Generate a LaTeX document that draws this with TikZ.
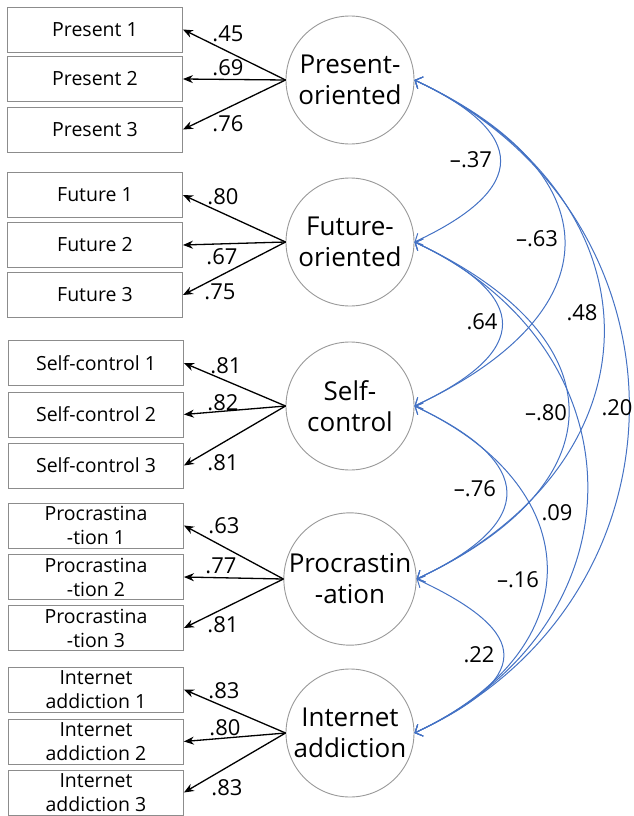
\documentclass[tikz,border=0pt]{standalone}
\usepackage{fontspec}
\setmainfont{Open Sans}
\usetikzlibrary{arrows.meta}
\definecolor{covblue}{RGB}{68,114,196}

\begin{document}
\begin{tikzpicture}[x=1pt, y=1pt,
  obs/.style={draw=black!45, line width=0.9pt, minimum width=175pt, minimum height=45pt, inner sep=0pt, align=center, font=\fontsize{19.5}{24}\selectfont},
  lat/.style={draw=black!40, line width=0.9pt, circle, minimum size=128pt, inner sep=0pt, align=center, font=\fontsize{26}{31}\selectfont},
  load/.style={-{Stealth[length=10pt,width=8pt]}, line width=1.3pt},
  cov/.style={{Straight Barb[length=6pt,width=13pt]}-{Straight Barb[length=6pt,width=13pt]}, draw=covblue, line width=1pt},
  est/.style={font=\fontsize{22}{22}\selectfont, inner sep=0pt},
  corr/.style={font=\fontsize{22}{22}\selectfont, inner sep=0pt}]
\useasboundingbox (0,0) rectangle (633,-816);

\node[obs] (pr1) at (95,-29.5) {Present 1};
\node[obs] (pr2) at (95,-79) {Present 2};
\node[obs] (pr3) at (95,-129.5) {Present 3};
\node[lat] (pr) at (350,-80) {Present-\\oriented};
\draw[load] (pr.west) -- (pr1.east);
\draw[load] (pr.west) -- (pr2.east);
\draw[load] (pr.west) -- (pr3.east);
\node[est] (lpr1) at (228,-33.5) {.45};
\node[est] (lpr2) at (228,-68) {.69};
\node[est] (lpr3) at (228,-123.5) {.76};

\node[obs] (fu1) at (95,-195) {Future 1};
\node[obs] (fu2) at (95,-245) {Future 2};
\node[obs] (fu3) at (95,-295) {Future 3};
\node[lat] (fu) at (350,-242) {Future-\\oriented};
\draw[load] (fu.west) -- (fu1.east);
\draw[load] (fu.west) -- (fu2.east);
\draw[load] (fu.west) -- (fu3.east);
\node[est] (lfu1) at (223,-197) {.80};
\node[est] (lfu2) at (222,-257) {.67};
\node[est] (lfu3) at (220,-292) {.75};

\node[obs] (sc1) at (96,-363) {Self-control 1};
\node[obs] (sc2) at (96,-414.5) {Self-control 2};
\node[obs] (sc3) at (96,-465.5) {Self-control 3};
\node[lat] (sc) at (350,-406) {Self-\\control};
\draw[load] (sc.west) -- (sc1.east);
\draw[load] (sc.west) -- (sc2.east);
\draw[load] (sc.west) -- (sc3.east);
\node[est] (lsc1) at (226,-366) {.81};
\node[est] (lsc2) at (223,-403) {.82};
\node[est] (lsc3) at (223,-463) {.81};

\node[obs] (pc1) at (96,-525.5) {Procrastina\\-tion 1};
\node[obs] (pc2) at (96,-577) {Procrastina\\-tion 2};
\node[obs] (pc3) at (96,-628) {Procrastina\\-tion 3};
\node[lat] (pc) at (350,-579) {Procrastin\\-ation};
\draw[load] (pc.west) -- (pc1.east);
\draw[load] (pc.west) -- (pc2.east);
\draw[load] (pc.west) -- (pc3.east);
\node[est] (lpc1) at (224,-526) {.63};
\node[est] (lpc2) at (221,-566) {.77};
\node[est] (lpc3) at (223,-625) {.81};

\node[obs] (ia1) at (96,-689.5) {Internet\\addiction 1};
\node[obs] (ia2) at (96,-741.5) {Internet\\addiction 2};
\node[obs] (ia3) at (96,-792.5) {Internet\\addiction 3};
\node[lat] (ia) at (350,-733) {Internet\\addiction};
\draw[load] (ia.west) -- (ia1.east);
\draw[load] (ia.west) -- (ia2.east);
\draw[load] (ia.west) -- (ia3.east);
\node[est] (lia1) at (224,-691) {.83};
\node[est] (lia2) at (225,-728) {.80};
\node[est] (lia3) at (227,-788) {.83};

\draw[cov] (pr.east) to[out=-25,in=25,looseness=2.0] (fu.east);
\draw[cov] (pr.east) to[out=-25,in=25,looseness=1.74] (sc.east);
\draw[cov] (pr.east) to[out=-25,in=25,looseness=1.42] (pc.east);
\draw[cov] (pr.east) to[out=-25,in=25,looseness=1.24] (ia.east);
\draw[cov] (fu.east) to[out=-25,in=25,looseness=2.02] (sc.east);
\draw[cov] (fu.east) to[out=-25,in=25,looseness=1.71] (pc.east);
\draw[cov] (fu.east) to[out=-25,in=25,looseness=1.33] (ia.east);
\draw[cov] (sc.east) to[out=-25,in=25,looseness=1.98] (pc.east);
\draw[cov] (sc.east) to[out=-25,in=25,looseness=1.53] (ia.east);
\draw[cov] (pc.east) to[out=-25,in=25,looseness=2.15] (ia.east);

\node[corr] (cprfu) at (471,-160) {--.37};
\node[corr] (cprsc) at (537,-239) {--.63};
\node[corr] (cprpc) at (582,-313) {.48};
\node[corr] (cpria) at (617,-408) {.20};
\node[corr] (cfusc) at (482,-322) {.64};
\node[corr] (cfupc) at (546,-413) {--.80};
\node[corr] (cfuia) at (557,-513) {.09};
\node[corr] (cscpc) at (475,-489) {--.76};
\node[corr] (cscia) at (518,-580) {--.16};
\node[corr] (cpcia) at (479,-655) {.22};
\end{tikzpicture}
\end{document}
